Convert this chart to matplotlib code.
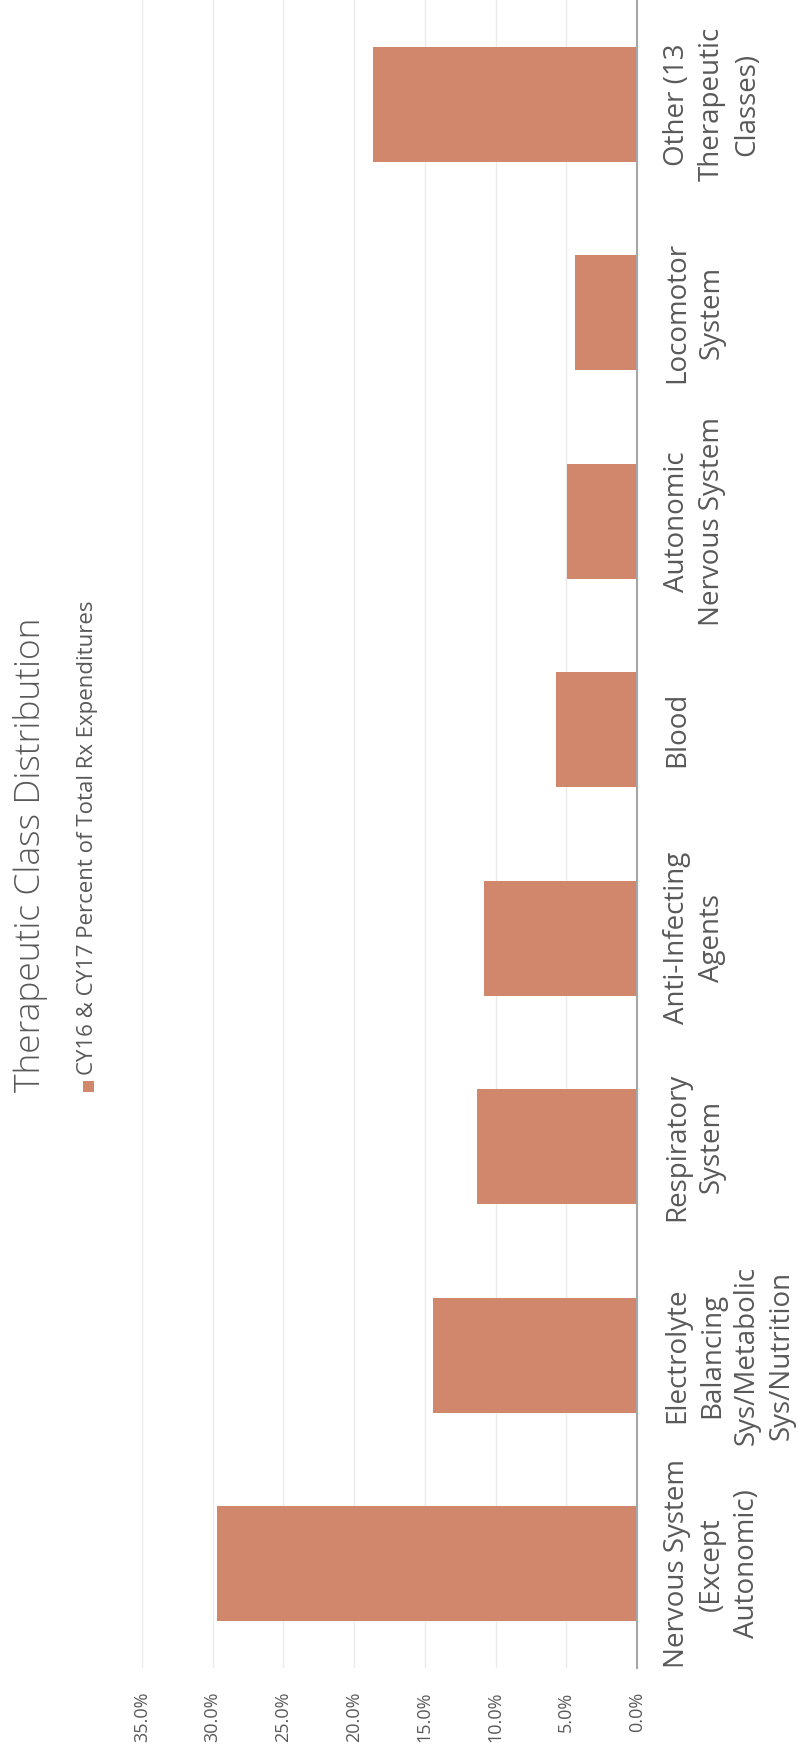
import matplotlib
matplotlib.use("Agg")
import matplotlib.pyplot as plt
from matplotlib.patches import Rectangle

categories = [
    "Nervous System\n(Except\nAutonomic)",
    "Electrolyte\nBalancing\nSys/Metabolic\nSys/Nutrition",
    "Respiratory\nSystem",
    "Anti-Infecting\nAgents",
    "Blood",
    "Autonomic\nNervous System",
    "Locomotor\nSystem",
    "Other (13\nTherapeutic\nClasses)",
]
values = [29.7, 14.4, 11.3, 10.8, 5.7, 4.95, 4.4, 18.65]
ticks = [0, 5, 10, 15, 20, 25, 30, 35]
tick_labels = ["0.0%", "5.0%", "10.0%", "15.0%", "20.0%", "25.0%", "30.0%", "35.0%"]
series_name = "CY16 & CY17 Percent of Total Rx Expenditures"
title = "Therapeutic Class Distribution"

BAR = "#D0876B"
TXT = "#595959"
plt.rcParams['font.family'] = ['Open Sans', 'DejaVu Sans']

W, H = 798, 1761
fig = plt.figure(figsize=(W / 100, H / 100), dpi=100)
x0, x1 = 142, 637
ybot = 1668
ax = fig.add_axes([x0 / W, (H - ybot) / H, (x1 - x0) / W, ybot / H])

pos = list(range(len(categories)))
ax.barh(pos, values, height=0.55, color=BAR, zorder=3)
ax.set_xlim(35, 0)
ax.set_ylim(-0.5, len(categories) - 0.5)

for s in ["top", "bottom", "left"]:
    ax.spines[s].set_visible(False)
ax.spines["right"].set_color("#A6A6A6")
ax.spines["right"].set_linewidth(1.5)
ax.spines["right"].set_zorder(4)

ax.set_xticks(ticks)
ax.set_xticklabels(tick_labels, rotation=90, fontsize=13, color=TXT, va="top", ha="center")
ax.tick_params(axis="x", length=0, pad=17)
ax.grid(axis="x", color="#EBEBEB", linewidth=1.0, zorder=0)
ax.set_axisbelow(True)

ax.yaxis.tick_right()
ax.set_yticks(pos)
ax.set_yticklabels(categories, rotation=90, fontsize=20, color=TXT,
                   ha="left", va="center", multialignment="center", linespacing=1.32)
ax.tick_params(axis="y", length=0, pad=19)

fig.text(31 / W, 1 - 855 / H, title, rotation=90, ha="center", va="center",
         fontsize=25.5, color=TXT, fontweight="light")

leg = fig.text(88 / W, 1 - 838 / H, series_name, rotation=90, ha="center", va="center",
               fontsize=16, color=TXT)
fig.canvas.draw()
bb = leg.get_window_extent(fig.canvas.get_renderer())
sq = 11
fig.patches.append(Rectangle(((88 - sq / 2) / W, (bb.y0 - 6 - sq) / H), sq / W, sq / H,
                             transform=fig.transFigure, facecolor=BAR, edgecolor="none"))

fig.savefig("out.png", dpi=100, facecolor="white")
